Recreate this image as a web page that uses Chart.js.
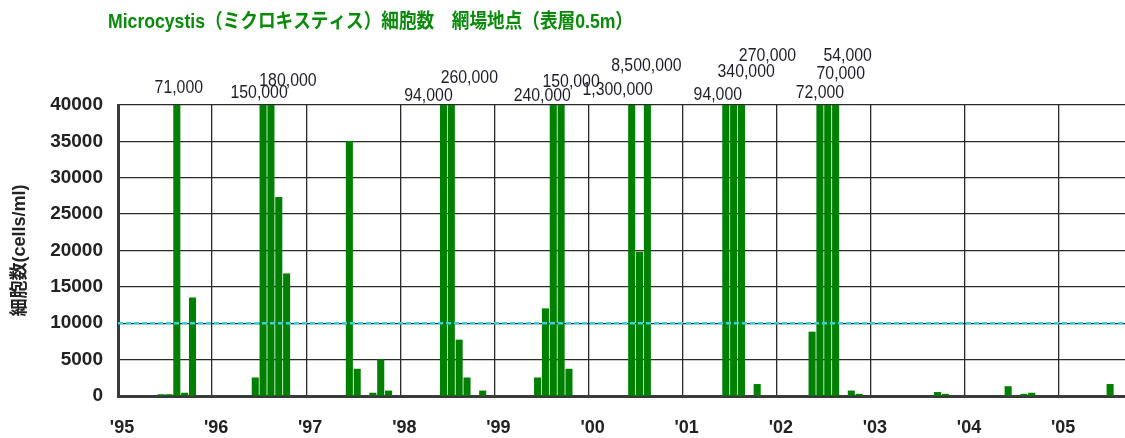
<!DOCTYPE html>
<html><head><meta charset="utf-8">
<script src="https://cdn.jsdelivr.net/npm/chart.js@4/dist/chart.umd.min.js"></script>
<style>html,body{margin:0;padding:0;background:#fff}#wrap{width:1125px;height:438px;position:relative}</style>
</head><body><div id="wrap"><canvas id="c" width="1125" height="438"></canvas></div>
<script>
// ---- data ----
const titleText = 'Microcystis（ミクロキスティス）細胞数　網場地点（表層0.5m）';
const yAxisTitle = '細胞数(cells/ml)';
const startYear = 1995;
const sampleMonths = [
 '1995-06','1995-07','1995-08','1995-09','1995-10',
 '1996-06','1996-07','1996-08','1996-09','1996-10',
 '1997-06','1997-07','1997-09','1997-10','1997-11',
 '1998-06','1998-07','1998-08','1998-09','1998-11',
 '1999-06','1999-07','1999-08','1999-09','1999-10',
 '2000-06','2000-07','2000-08',
 '2001-06','2001-07','2001-08','2001-10',
 '2002-05','2002-06','2002-07','2002-08','2002-10','2002-11',
 '2003-09','2003-10',
 '2004-06','2004-08','2004-09',
 '2005-07'];
const cellCounts = [
 200,200,71000,400,13500,
 2500,150000,180000,27300,16800,
 35000,3700,400,5000,700,
 94000,260000,7700,2500,700,
 2500,12000,240000,150000,3700,
 1300000,19800,8500000,
 94000,340000,270000,1600,
 8800,72000,70000,54000,700,250,
 500,250,
 1300,250,400,
 1600];
const yearLabels = ["'95","'96","'97","'98","'99","'00","'01","'02","'03","'04","'05"];
const yTicks = [0,5000,10000,15000,20000,25000,30000,35000,40000];
const guideValue = 10000;

// ---- styles / layout (not data) ----
const overflowLabelOffsets = [[2,-16.5],[-4,-12],[17,-24],[-15,-8.5],[18,-27],[-11,-9],[10,-23],[-14,-15],[-1,-39],[-8,-10],[12.5,-32.5],[26,-49],[0,-11.5],[13,-31],[12,-49]];
const Y_MAX = yTicks[yTicks.length-1];
const X_MAX = 128.4;

const monthIndex = s => { const [y,m] = s.split('-').map(Number); return (y-startYear)*12 + (m-1); };
const barPoints = sampleMonths.map((s,i)=>({x: monthIndex(s)+0.5, y: cellCounts[i]}));

const overlayPlugin = {
  id:'overlay',
  afterDatasetsDraw(chart){
    const ctx = chart.ctx, area = chart.chartArea;
    const meta = chart.getDatasetMeta(1);
    ctx.save();
    ctx.font = '18px "Liberation Sans", Arial, sans-serif';
    ctx.fillStyle = '#1d1d2b';
    ctx.textAlign = 'center';
    ctx.textBaseline = 'middle';
    let k = 0;
    cellCounts.forEach((v,i)=>{
      if (v > Y_MAX) {
        const el = meta.data[i];
        const off = overflowLabelOffsets[k++] || [0,-10];
        ctx.save();
        ctx.translate(el.x + off[0], area.top + off[1]);
        ctx.scale(0.88,1);
        ctx.fillText(v.toLocaleString('en-US'), 0, 0);
        ctx.restore();
      }
    });
    ctx.restore();
  },
  afterDraw(chart){
    const ctx = chart.ctx;
    ctx.save();
    ctx.font = 'bold 20px "Liberation Sans", "Noto Sans CJK JP", sans-serif';
    ctx.fillStyle = '#0a8a0a';
    ctx.textBaseline = 'middle';
    const w = ctx.measureText(titleText).width;
    const target = 525;
    ctx.translate(108, 22);
    ctx.scale(target/w, 1);
    ctx.fillText(titleText, 0, 0);
    ctx.restore();
  }
};

new Chart(document.getElementById('c'), {
  data: {
    datasets: [
      { type:'line', label:'guide', data:[{x:0,y:guideValue},{x:X_MAX,y:guideValue}],
        borderColor:'#3fcfd6', borderWidth:2.5, borderDash:[5,3], pointRadius:0, order:1, clip:false },
      { type:'bar', label:'cells', data: barPoints, backgroundColor:'#008000',
        borderColor:'#2f9a2f', borderWidth:0, barThickness:6.4, order:2 }
    ]
  },
  options: {
    responsive:false, animation:false, devicePixelRatio:1,
    layout:{ padding:{ top:105, left:0, right:0, bottom:0 } },
    plugins:{ legend:{display:false}, tooltip:{enabled:false}, title:{display:false} },
    scales:{
      x:{ type:'linear', min:0, max:X_MAX, offset:false,
        afterBuildTicks: s => { s.ticks = yearLabels.map((_,i)=>({value:i*12})); },
        afterFit: s => { s.height = 42; },
        grid:{ color:'#2a2a2a', lineWidth:1.3, drawTicks:false, offset:false },
        border:{ display:true, color:'#3a3a3a', width:3 },
        ticks:{ autoSkip:false, maxRotation:0, padding:21, labelOffset:4, color:'#222',
          font:{ family:'"Liberation Sans Narrow", "Arial Narrow", "Liberation Sans", sans-serif', weight:'bold', size:18 },
          callback: v => yearLabels[Math.round(v/12)] }
      },
      y:{ min:0, max:Y_MAX,
        afterBuildTicks: s => { s.ticks = yTicks.map(v=>({value:v})); },
        afterFit: s => { s.width = 118; },
        grid:{ color:'#2a2a2a', lineWidth:1.3, drawTicks:false },
        border:{ display:true, color:'#3a3a3a', width:3 },
        title:{ display:true, text:yAxisTitle, color:'#222', padding:{top:9,bottom:0},
          font:{ family:'"Liberation Sans", "Noto Sans CJK JP", sans-serif', weight:'bold', size:18 } },
        ticks:{ padding:15, color:'#222', callback: v => String(v),
          font:{ family:'"Liberation Sans", Arial, sans-serif', weight:'bold', size:19 } }
      }
    }
  },
  plugins:[overlayPlugin]
});
</script>
</body></html>
